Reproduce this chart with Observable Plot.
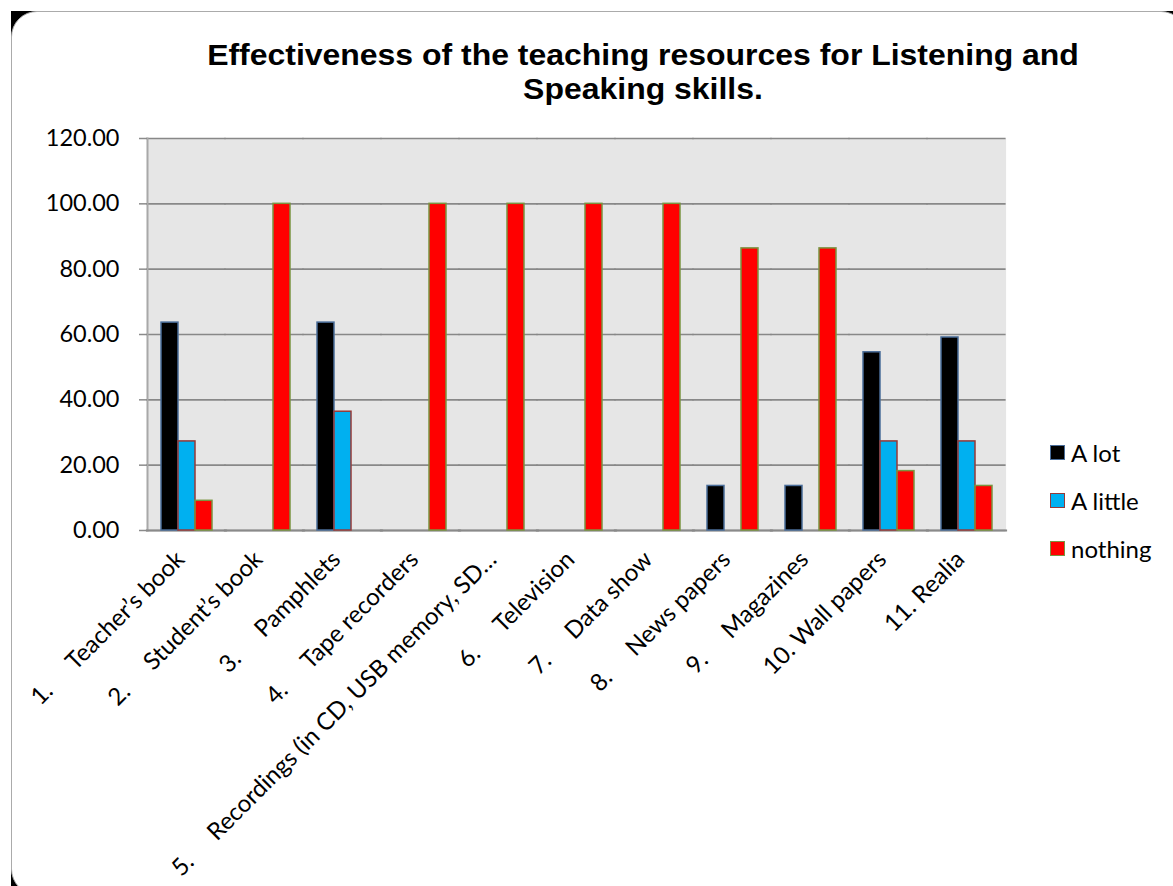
<!DOCTYPE html>
<html>
<head>
<meta charset="utf-8">
<script src="https://cdn.jsdelivr.net/npm/d3@7"></script>
<script src="https://cdn.jsdelivr.net/npm/@observablehq/plot@0.6"></script>
<style>
  html, body { margin: 0; padding: 0; background: #fff; }
  #page { position: relative; width: 1173px; height: 886px; overflow: hidden; }
  #corner { position: absolute; left: 11px; top: 11px; width: 1176px; height: 884px; background: #000; }
  #card { position: absolute; left: 11px; top: 11px; width: 1176px; height: 884px; box-sizing: border-box;
          background: #fff; border: 1.5px solid #ababab; border-radius: 26px; }
  #chart { position: absolute; left: 0; top: 0; }
  #title { position: absolute; left: 143px; top: 38px; width: 1000px; text-align: center;
           font-family: "Liberation Sans", Arial, sans-serif; font-weight: bold; font-size: 30px; line-height: 34px;
           color: #000; transform: scaleX(1.065); transform-origin: 500px 0; }
  .legend-row { position: absolute; left: 1050px; display: flex; align-items: center;
                font-family: Lato, "Open Sans", sans-serif; font-size: 24px; color: #000; height: 30px; }
  .legend-row .sw { width: 13px; height: 13px; border: 1.5px solid; margin-right: 6px; }
</style>
</head>
<body>
<div id="page">
  <div id="corner"></div>
  <div id="card"></div>
  <div id="title">Effectiveness of the teaching resources for Listening and<br>Speaking skills.</div>
  <div id="chart"></div>
  <div id="legend"></div>
</div>
<script>
const gap = "\u00a0".repeat(5);
const categories = [
  "1." + gap + "Teacher’s book",
  "2." + gap + "Student’s book",
  "3." + gap + "Pamphlets",
  "4." + gap + "Tape recorders",
  "5." + gap + "Recordings (in CD, USB memory, SD…",
  "6." + gap + "Television",
  "7." + gap + "Data show",
  "8." + gap + "News papers",
  "9." + gap + "Magazines",
  "10. Wall papers",
  "11. Realia"
];
const seriesNames = ["A lot", "A little", "nothing"];
const aLot    = [63.64, 0, 63.64, 0, 0, 0, 0, 13.64, 13.64, 54.55, 59.09];
const aLittle = [27.27, 0, 36.36, 0, 0, 0, 0, 0, 0, 27.27, 27.27];
const nothing = [9.09, 100, 0, 100, 100, 100, 100, 86.36, 86.36, 18.18, 13.64];
const yTicks = [0, 20, 40, 60, 80, 100, 120];

const fills   = ["#000000", "#00b0f0", "#ff0000"];
const strokes = ["#4a6d99", "#963a38", "#7a9440"];

const seriesValues = [aLot, aLittle, nothing];
const rows = seriesValues.map((vals, s) =>
  vals.map((v, i) => ({cat: categories[i], series: seriesNames[s], value: v}))
      .filter(d => d.value > 0)
);

const chart = Plot.plot({
  width: 1173,
  height: 886,
  marginLeft: 142,
  marginRight: 164,
  marginTop: 138,
  marginBottom: 356,
  style: {background: "transparent", color: "#000", fontFamily: "Lato, 'Open Sans', sans-serif"},
  fx: {domain: categories, padding: 0},
  x: {domain: seriesNames, paddingInner: 0, paddingOuter: 0.726, axis: null},
  y: {domain: [0, 120]},
  marks: [
    // plot-area background; slight overlap hides seams between category panels
    Plot.frame({fill: "#e6e6e6", stroke: null, insetLeft: -0.6, insetRight: -0.6}),
    Plot.gridY(yTicks, {stroke: "#888888", strokeOpacity: 1, strokeWidth: 1.6, insetLeft: -0.6, insetRight: -0.6}),
    Plot.frame({anchor: "left", stroke: "#a8a8a8", strokeWidth: 2, facetAnchor: "left"}),
    Plot.frame({anchor: "bottom", stroke: "#8a8a8a", strokeWidth: 2, insetLeft: -0.6, insetRight: -0.6}),
    ...rows.map((data, s) => Plot.barY(data, {
      fx: "cat", x: "series", y: "value",
      fill: fills[s], stroke: strokes[s], strokeWidth: 1.5
    })),
    Plot.axisY(yTicks, {
      tickFormat: d => d.toFixed(2), tickSize: 8, tickPadding: 20,
      fontSize: 23.5, stroke: "#8a8a8a", strokeWidth: 1.5, label: null
    }),
    Plot.axisFx({
      anchor: "bottom", tickRotate: -45, tickSize: 0, tickPadding: 25, dx: -6,
      fontSize: 24, label: null
    })
  ]
});
document.getElementById("chart").appendChild(chart);

// Legend to the right of the plot
const legend = document.getElementById("legend");
const legendTops = [437, 485, 533];
seriesNames.forEach((name, s) => {
  const row = document.createElement("div");
  row.className = "legend-row";
  row.style.top = legendTops[s] + "px";
  const sw = document.createElement("span");
  sw.className = "sw";
  sw.style.background = fills[s];
  sw.style.borderColor = strokes[s];
  row.appendChild(sw);
  row.appendChild(document.createTextNode(name));
  legend.appendChild(row);
});
</script>
</body>
</html>
